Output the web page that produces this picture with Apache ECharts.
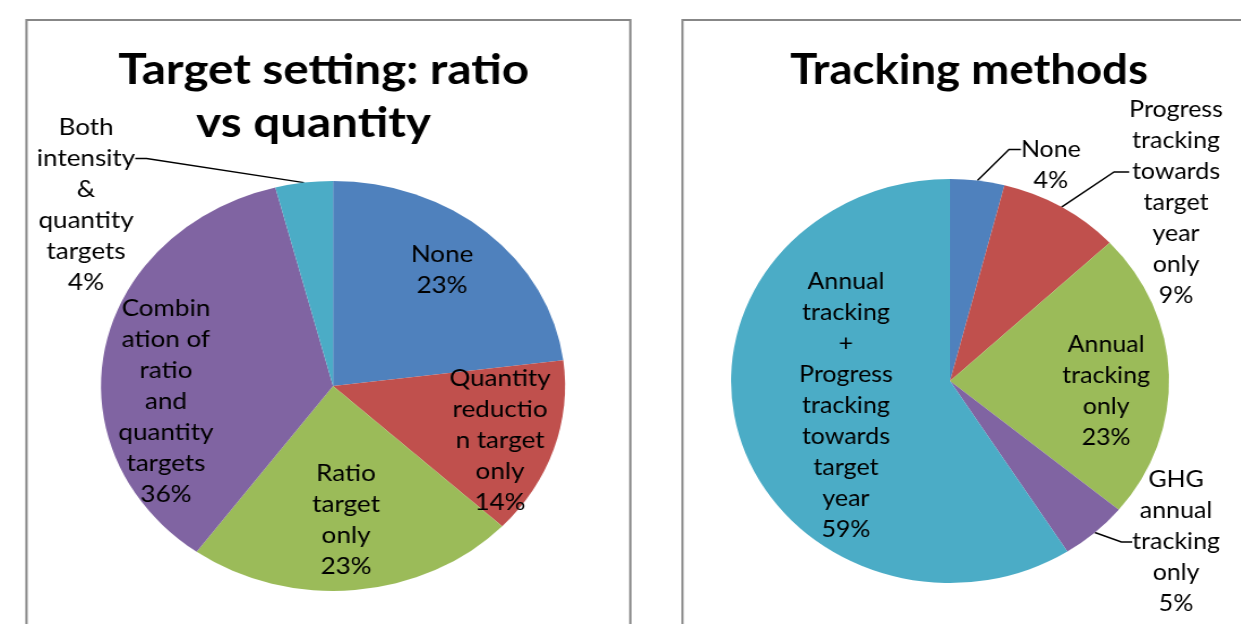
<!DOCTYPE html>
<html><head><meta charset="utf-8">
<script src="https://cdn.jsdelivr.net/npm/echarts@6/dist/echarts.min.js"></script>
<style>
html,body{margin:0;padding:0;background:#fff;overflow:hidden;width:1241px;height:624px;}
.panel{position:absolute;top:0;height:624px;transform-origin:0 0;}
#left{left:0;width:565px;transform:scaleX(1.132);}
#right{left:640px;width:560px;transform:scaleX(1.084);}
</style></head><body>
<div id="left" class="panel"></div><div id="right" class="panel"></div>
<script>
// ---- data ----
const targetCategories = ['None', 'Quantity reduction target only', 'Ratio target only', 'Combination of ratio and quantity targets', 'Both intensity & quantity targets'];
const targetValues = [23, 14, 23, 36, 4];
const targetLabelText = ['None', 'Quantity\nreductio\nn target\nonly', 'Ratio\ntarget\nonly', 'Combin\nation of\nratio\nand\nquantity\ntargets', 'Both\nintensity\n&\nquantity\ntargets'];

const trackingCategories = ['None', 'Progress tracking towards target year only', 'Annual tracking only', 'GHG annual tracking only', 'Annual tracking + Progress tracking towards target year'];
const trackingValues = [4, 9, 23, 5, 59];
const trackingLabelText = ['None', 'Progress\ntracking\ntowards\ntarget\nyear\nonly', 'Annual\ntracking\nonly', 'GHG\nannual\ntracking\nonly', 'Annual\ntracking\n+\nProgress\ntracking\ntowards\ntarget\nyear'];

const sliceColors = ['#4F81BD', '#C0504D', '#9BBB59', '#8064A2', '#4BACC6'];

// ---- layout / style ----
const FONT = 'Lato, "Open Sans", sans-serif';
const leftLayout = {
  center: [294.2, 386], radius: 205,
  border: { x: 23.4, y: 20, w: 533.4 },
  titles: [{ text: 'Target setting: ratio', x: 286, y: 70 }, { text: 'vs quantity', x: 277, y: 123 }],
  labels: [
    { x: 390.5, y: 270 },
    { x: 441.7, y: 441 },
    { x: 305.7, y: 520 },
    { x: 146.6, y: 402 },
    { x: 76, y: 158.5, outside: true, lead: 3, length2: 10 }
  ]
};
const rightLayout = {
  center: [286, 381], radius: 202,
  border: { x: 39.2, y: 20, w: 700 },
  titles: [{ text: 'Tracking methods', x: 303.5, y: 70 }],
  labels: [
    { x: 379, y: 149.5, outside: true, lead: 1, length2: 11 },
    { x: 494.5, y: 172, outside: true, lead: 2, length2: 14 },
    { x: 430, y: 391 },
    { x: 494.5, y: 542, outside: true, lead: 0, length2: 10 },
    { x: 190, y: 406 }
  ]
};

function buildOption(names, values, texts, cfg) {
  return {
    animation: false,
    backgroundColor: 'transparent',
    graphic: [
      { type: 'rect', silent: true, z: -1,
        shape: { x: cfg.border.x, y: cfg.border.y, width: cfg.border.w, height: 800 },
        style: { fill: 'none', stroke: '#878787', lineWidth: 2 } }
    ].concat(cfg.titles.map(t => ({
      type: 'text', silent: true, x: t.x, y: t.y,
      style: { text: t.text, font: 'bold 42px ' + FONT, fill: '#000',
               textAlign: 'center', textVerticalAlign: 'middle', align: 'center', verticalAlign: 'middle' }
    }))),
    series: [{
      type: 'pie', center: cfg.center, radius: cfg.radius, startAngle: 90, clockwise: true,
      avoidLabelOverlap: false, silent: true,
      emphasis: { disabled: true },
      itemStyle: { borderWidth: 0 },
      label: {
        show: true, fontFamily: FONT, fontSize: 23, lineHeight: 31, color: '#000',
        formatter: p => '\n'.repeat(cfg.labels[p.dataIndex].lead || 0) + texts[p.dataIndex] + '\n' + Math.round(p.percent) + '%'
      },
      labelLine: { lineStyle: { color: '#000', width: 1.5 }, length: 10, length2: 10 },
      labelLayout: p => {
        const l = cfg.labels[p.dataIndex];
        return { x: l.x, y: l.y, align: 'center', verticalAlign: 'middle' };
      },
      data: names.map((n, i) => ({
        name: n, value: values[i],
        itemStyle: { color: sliceColors[i] },
        label: { position: cfg.labels[i].outside ? 'outside' : 'inside' },
        labelLine: { show: !!cfg.labels[i].outside, length2: cfg.labels[i].length2 || 0 }
      }))
    }]
  };
}

const chartL = echarts.init(document.getElementById('left'), null, { renderer: 'canvas' });
chartL.setOption(buildOption(targetCategories, targetValues, targetLabelText, leftLayout));
const chartR = echarts.init(document.getElementById('right'), null, { renderer: 'canvas' });
chartR.setOption(buildOption(trackingCategories, trackingValues, trackingLabelText, rightLayout));
</script>
</body></html>
